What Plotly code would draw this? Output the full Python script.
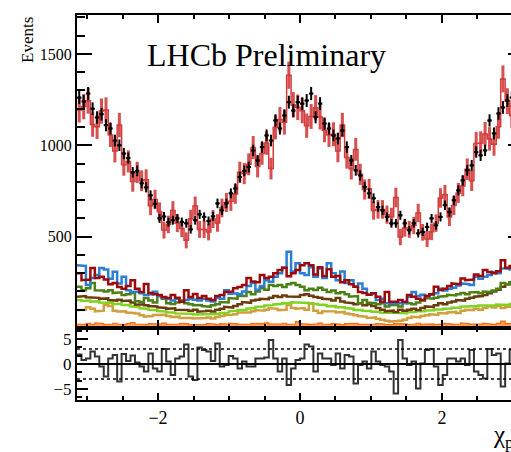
import numpy as np
import plotly.graph_objects as go

# ---------------- data ----------------
N_BINS = 100
X_MIN, X_MAX = -np.pi, np.pi

data_counts = [
    1261, 1240, 1283, 1200, 1152, 1170, 1110, 1092, 1026, 1000,
    955, 930, 852, 860, 792, 770, 726, 680, 600, 610,
    579, 590, 600, 580, 573, 540, 590, 622, 608, 586,
    611, 682, 644, 682, 737, 764, 826, 860, 881, 972,
    917, 990, 1054, 1026, 1136, 1092, 1163, 1236, 1190, 1236,
    1228, 1245, 1283, 1154, 1228, 1119, 1092, 1054, 1037, 1081,
    990, 917, 863, 835, 772, 737, 710, 662, 644, 608,
    573, 573, 617, 573, 535, 573, 518, 526, 553, 600,
    562, 608, 672, 635, 699, 753, 808, 863, 890, 963,
    945, 972, 1136, 1065, 1174, 1207, 1245, 1261, 1240, 1270,
]

pull_vals = [
    1.9, 0.8, 1.1, 2.5, 1.5, -0.5, -2.5, 1.1, 1.8, -3.5,
    2.0, 0.6, 1.7, 0.3, -0.5, -1.5, 2.1, -0.9, -1.5, 3.0,
    0.5, -2.2, 1.1, 1.5, 3.9, -2.5, -3.2, 3.3, 2.8, 2.5,
    0.6, 4.1, -0.5, -0.2, 1.6, 1.1, -0.9, 0.5, -0.5, -0.5,
    1.1, 1.1, 1.3, 4.8, 1.1, -1.5, 1.1, -4.2, -0.9, 0.8,
    1.1, 3.9, 3.5, -1.5, 2.1, 1.1, 1.1, -0.2, 2.1, -0.9,
    1.8, 1.5, -3.9, -0.2, 0.5, -0.9, 2.5, 0.5, -0.2, -0.5,
    -1.5, -5.9, 4.8, 1.1, -0.2, 0.5, -4.9, 0.1, 2.8, 3.0,
    -0.5, -4.2, -2.2, 1.1, 1.1, 0.5, 1.1, -0.2, 2.8, -1.5,
    -2.2, -2.9, 3.0, 1.8, 2.1, -4.5, 0.1, 2.8, -1.0, 1.5,
]

comp_darkred = [
    300, 262, 265, 328, 273, 280, 265, 240, 246, 224,
    215, 230, 262, 215, 197, 241, 191, 185, 180, 170,
    164, 180, 165, 144, 207, 170, 186, 164, 175, 160,
    153, 175, 180, 197, 200, 218, 225, 235, 273, 255,
    250, 290, 273, 280, 300, 317, 330, 283, 300, 317,
    344, 355, 344, 293, 333, 284, 322, 280, 285, 251,
    262, 240, 226, 197, 191, 182, 190, 171, 144, 197,
    144, 144, 153, 144, 180, 171, 160, 153, 175, 185,
    226, 208, 215, 230, 244, 240, 271, 262, 265, 293,
    285, 317, 306, 300, 310, 371, 330, 340, 350, 320,
]

comp_blue = [
    344, 340, 235, 273, 290, 328, 320, 270, 308, 244,
    280, 207, 197, 200, 190, 180, 185, 198, 175, 165,
    160, 150, 160, 147, 153, 160, 155, 150, 160, 150,
    145, 165, 160, 207, 186, 190, 185, 200, 230, 246,
    210, 230, 262, 253, 280, 300, 330, 417, 309, 355,
    300, 290, 333, 280, 325, 273, 355, 300, 262, 309,
    246, 262, 226, 244, 215, 182, 190, 153, 160, 136,
    140, 136, 140, 136, 171, 197, 175, 182, 175, 182,
    190, 215, 205, 215, 220, 233, 244, 240, 235, 280,
    270, 280, 290, 306, 300, 326, 326, 320, 335, 330,
]

comp_olive = [
    226, 207, 218, 246, 207, 205, 200, 207, 191, 195,
    180, 185, 191, 147, 142, 164, 150, 140, 175, 160,
    136, 131, 140, 150, 135, 130, 125, 126, 120, 116,
    125, 130, 142, 140, 164, 160, 175, 175, 197, 185,
    200, 218, 210, 235, 230, 235, 225, 240, 246, 235,
    226, 207, 215, 208, 220, 210, 197, 205, 190, 195,
    185, 171, 175, 136, 153, 140, 136, 130, 136, 118,
    125, 127, 118, 140, 135, 130, 140, 150, 164, 160,
    165, 171, 175, 182, 178, 185, 191, 185, 195, 197,
    190, 200, 197, 205, 215, 246, 240, 250, 255, 245,
]

comp_brown = [
    171, 175, 168, 164, 165, 160, 162, 153, 150, 155,
    148, 150, 140, 127, 130, 125, 120, 118, 113, 110,
    105, 108, 100, 102, 98, 95, 100, 89, 92, 95,
    90, 100, 105, 116, 112, 120, 130, 142, 138, 150,
    155, 160, 158, 165, 175, 170, 178, 172, 175, 171,
    180, 185, 176, 170, 165, 160, 158, 150, 164, 145,
    140, 136, 130, 136, 125, 130, 120, 110, 100, 91,
    95, 88, 100, 95, 100, 105, 98, 110, 118, 115,
    125, 136, 130, 140, 145, 153, 150, 160, 165, 171,
    175, 180, 190, 200, 210, 226, 240, 250, 245, 240,
]

comp_lightgreen = [
    153, 148, 150, 144, 147, 140, 136, 138, 130, 133,
    127, 125, 118, 116, 108, 106, 100, 99, 93, 90,
    86, 85, 80, 82, 79, 78, 74, 75, 72, 74,
    76, 77, 82, 84, 91, 94, 99, 100, 106, 109,
    116, 117, 123, 125, 129, 131, 137, 136, 141, 140,
    138, 137, 133, 131, 128, 126, 119, 120, 114, 113,
    109, 106, 99, 99, 94, 93, 89, 89, 84, 83,
    80, 82, 83, 81, 86, 87, 91, 91, 96, 97,
    101, 101, 106, 107, 111, 111, 116, 117, 119, 120,
    123, 124, 125, 125, 129, 130, 126, 131, 134, 140,
]

comp_tan = [
    98, 100, 113, 105, 91, 95, 126, 120, 95, 90,
    92, 85, 82, 80, 70, 62, 65, 71, 68, 72,
    65, 60, 62, 55, 58, 55, 52, 56, 55, 58,
    52, 60, 65, 70, 73, 75, 85, 89, 85, 92,
    98, 95, 100, 109, 105, 98, 100, 126, 110, 105,
    109, 100, 136, 95, 82, 92, 89, 91, 85, 88,
    80, 75, 70, 65, 62, 55, 58, 50, 45, 40,
    35, 38, 40, 45, 55, 62, 58, 65, 70, 75,
    72, 82, 80, 85, 88, 82, 95, 100, 98, 105,
    100, 110, 118, 112, 120, 109, 115, 118, 120, 115,
]

comp_orange = [
    22, 18, 25, 20, 28, 24, 19, 22, 26, 21,
    18, 24, 30, 22, 20, 19, 25, 23, 21, 27,
    20, 18, 22, 26, 24, 19, 21, 23, 20, 25,
    22, 18, 24, 21, 27, 23, 20, 19, 22, 25,
    21, 24, 28, 22, 19, 23, 26, 20, 22, 35,
    24, 21, 19, 23, 27, 22, 20, 25, 21, 18,
    24, 22, 26, 20, 23, 19, 21, 25, 22, 18,
    20, 24, 21, 23, 19, 22, 26, 20, 24, 22,
    19, 21, 25, 23, 20, 22, 28, 24, 21, 19,
    23, 26, 22, 20, 25, 38, 24, 22, 21, 23,
]

y_tick_vals = [500, 1000, 1500]
y_tick_text = ["500", "1000", "1500"]
pull_tick_vals = [-5, 0, 5]
pull_tick_text = ["\u22125", "0", "5"]
x_tick_vals = [-2, 0, 2]
x_tick_text = ["\u22122", "0", "2"]

# ---------------- derived ----------------
edges = np.linspace(X_MIN, X_MAX, N_BINS + 1)
centers = 0.5 * (edges[:-1] + edges[1:])
half_w = 0.5 * (edges[1] - edges[0])

data = np.array(data_counts, dtype=float)
data_err = np.sqrt(data)
pull = np.array(pull_vals, dtype=float)
model = data - pull * data_err
model_err = 2.0 * np.sqrt(model)


def step(vals):
    xs = np.repeat(edges, 2)[1:-1]
    ys = np.repeat(np.asarray(vals, dtype=float), 2)
    return xs, ys


FONT = "Liberation Serif"
W, H = 540, 452
L, R, T, B = 77, W - 523, 15, 52
plot_h = H - T - B
split = (400 - 328) / plot_h

fig = go.Figure()

components = [
    (comp_tan, "#d1a03e"),
    (comp_lightgreen, "#7ed321"),
    (comp_brown, "#6b3b0c"),
    (comp_olive, "#4b8114"),
    (comp_blue, "#2a7fd4"),
    (comp_darkred, "#9c0a0a"),
]
for vals, col in components:
    xs, ys = step(vals)
    fig.add_trace(go.Scatter(x=xs, y=ys, mode="lines",
                             line=dict(color=col, width=2.5),
                             hoverinfo="skip", showlegend=False))

xs, ys = step(comp_orange)
fig.add_trace(go.Scatter(x=xs, y=ys, mode="lines", fill="tozeroy",
                         fillcolor="#ffa05c",
                         line=dict(color="#ff6a00", width=1.2),
                         hoverinfo="skip", showlegend=False))

# model (red) histogram with errors
xs, ys = step(model)
fig.add_trace(go.Scatter(x=xs, y=ys, mode="lines",
                         line=dict(color="#d33c3c", width=1.5),
                         hoverinfo="skip", showlegend=False))
fig.add_trace(go.Scatter(x=centers, y=model, mode="markers",
                         marker=dict(size=2, color="#d33c3c"),
                         error_y=dict(type="data", array=model_err, thickness=3,
                                      width=0, color="rgba(211,60,60,0.9)"),
                         hoverinfo="skip", showlegend=False))

# data points
fig.add_trace(go.Scatter(x=centers, y=data, mode="markers",
                         marker=dict(size=3, color="black"),
                         error_y=dict(type="data", array=data_err, thickness=2,
                                      width=0, color="black"),
                         error_x=dict(type="constant", value=half_w, thickness=2,
                                      width=0, color="black"),
                         hoverinfo="skip", showlegend=False))

# pull
xs, ys = step(pull)
fig.add_trace(go.Scatter(x=xs, y=ys, mode="lines", xaxis="x2", yaxis="y2",
                         line=dict(color="#333333", width=2),
                         hoverinfo="skip", showlegend=False))

axis_common = dict(showgrid=False, zeroline=False, showline=True,
                   linecolor="black", linewidth=2, mirror="ticks",
                   ticks="inside", tickcolor="black", tickwidth=1.5)

fig.update_layout(
    width=W, height=H,
    margin=dict(l=L, r=R, t=T, b=B),
    paper_bgcolor="white", plot_bgcolor="white",
    font=dict(family=FONT, color="black", size=16),
    xaxis=dict(domain=[0, 1], anchor="y", range=[X_MIN, X_MAX],
               tickvals=x_tick_vals, ticklen=8, showticklabels=False,
               minor=dict(dtick=0.5, tick0=0, ticklen=4, ticks="inside",
                          tickcolor="black", tickwidth=1.5),
               **axis_common),
    yaxis=dict(domain=[split, 1], anchor="x", range=[0, 1713],
               tickvals=y_tick_vals, ticktext=y_tick_text, ticklen=15,
               tickfont=dict(size=16, family=FONT),
               minor=dict(dtick=100, tick0=0, ticklen=8, ticks="inside",
                          tickcolor="black", tickwidth=1.5),
               **axis_common),
    xaxis2=dict(domain=[0, 1], anchor="y2", range=[X_MIN, X_MAX], matches="x",
                tickvals=x_tick_vals, ticktext=x_tick_text, ticklen=7,
                tickfont=dict(size=18, family=FONT),
                minor=dict(dtick=0.5, tick0=0, ticklen=4, ticks="inside",
                           tickcolor="black", tickwidth=1.5),
                **axis_common),
    yaxis2=dict(domain=[0, split], anchor="x2", range=[-7.2, 7.2],
                tickvals=pull_tick_vals, ticktext=pull_tick_text, ticklen=11,
                tickfont=dict(size=17, family=FONT),
                minor=dict(dtick=5 / 3, tick0=0, ticklen=5, ticks="inside",
                           tickcolor="black", tickwidth=1.5),
                **axis_common),
    shapes=[
        dict(type="line", xref="x2", yref="y2", x0=X_MIN, x1=X_MAX, y0=0, y1=0,
             line=dict(color="black", width=2)),
        dict(type="line", xref="x2", yref="y2", x0=X_MIN, x1=X_MAX, y0=3, y1=3,
             line=dict(color="black", width=1.5, dash="dot")),
        dict(type="line", xref="x2", yref="y2", x0=X_MIN, x1=X_MAX, y0=-3, y1=-3,
             line=dict(color="black", width=1.5, dash="dot")),
    ],
    annotations=[
        dict(text="LHCb Preliminary", xref="paper", yref="paper",
             x=(145 - L) / (W - L - R), y=(400 - 55) / plot_h,
             xanchor="left", yanchor="middle", showarrow=False,
             font=dict(size=32, family=FONT)),
        dict(text="Events", xref="paper", yref="paper",
             x=(27 - L) / (W - L - R), y=(400 - 40) / plot_h,
             xanchor="center", yanchor="middle", textangle=-90, showarrow=False,
             font=dict(size=17, family=FONT)),
        dict(text="\u03c7<sub>p</sub>", xref="paper", yref="paper",
             x=(491 - L) / (W - L - R), y=(400 - 437) / plot_h,
             xanchor="left", yanchor="middle", showarrow=False,
             font=dict(size=25, family=FONT)),
    ],
)

fig.write_html("out.html")
